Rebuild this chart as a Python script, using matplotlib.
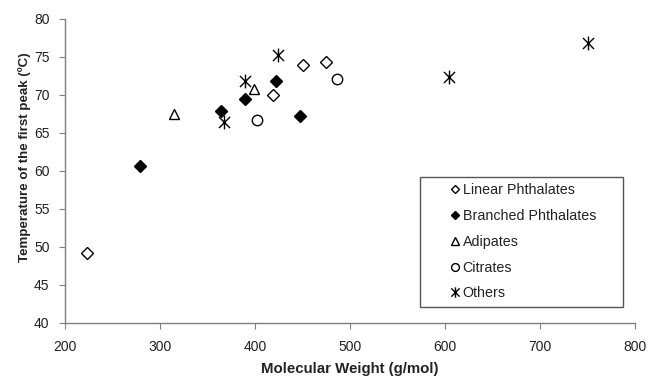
import matplotlib.pyplot as plt
import matplotlib as mpl
from matplotlib.path import Path
from matplotlib.patches import Rectangle

mpl.rcParams['font.family'] = 'Liberation Sans'
mpl.rcParams['font.size'] = 9

# molecular weight (g/mol) and temperature of first peak (C) per plasticiser group
linear_mw = [223, 419, 451, 475]
linear_t = [49.2, 70.0, 73.9, 74.4]

branched_mw = [279, 364, 390, 422, 447]
branched_t = [60.6, 67.9, 69.4, 71.8, 67.2]

adipate_mw = [315, 399]
adipate_t = [67.5, 70.8]

citrate_mw = [402, 486]
citrate_t = [66.7, 72.1]

other_mw = [368, 390, 424, 604, 750]
other_t = [66.5, 71.9, 75.2, 72.4, 76.8]

x_ticks = [200, 300, 400, 500, 600, 700, 800]
y_ticks = [40, 45, 50, 55, 60, 65, 70, 75, 80]

# excel style star: an X with a vertical bar through it
star = Path([(-1, -1), (1, 1), (-1, 1), (1, -1), (0, -1.25), (0, 1.25)],
            [Path.MOVETO, Path.LINETO, Path.MOVETO, Path.LINETO, Path.MOVETO, Path.LINETO])

fig = plt.figure(figsize=(6.48, 3.79), dpi=100)
ax = fig.add_axes([0.100, 0.148, 0.880, 0.802])

kw = dict(linestyle='none', markeredgecolor='black', markeredgewidth=1.0)
ax.plot(linear_mw, linear_t, marker='D', markersize=6, markerfacecolor='white', label='Linear Phthalates', **kw)
ax.plot(branched_mw, branched_t, marker='D', markersize=6, markerfacecolor='black', label='Branched Phthalates', **kw)
ax.plot(adipate_mw, adipate_t, marker='^', markersize=7, markerfacecolor='none', label='Adipates', **kw)
ax.plot(citrate_mw, citrate_t, marker='o', markersize=7.5, markerfacecolor='none', label='Citrates', **kw)
ax.plot(other_mw, other_t, marker=star, markersize=10, markerfacecolor='none', label='Others', **kw)

ax.set_xlim(200, 800)
ax.set_ylim(40, 80)
ax.set_xticks(x_ticks)
ax.set_yticks(y_ticks)

for side in ['top', 'right']:
    ax.spines[side].set_visible(False)
for side in ['left', 'bottom']:
    ax.spines[side].set_color('#7f7f7f')
    ax.spines[side].set_linewidth(1.0)
ax.tick_params(direction='out', length=4, color='#7f7f7f', labelsize=10, labelcolor='#222222')
ax.tick_params(axis='x', pad=8)
ax.tick_params(axis='y', pad=7)

ax.set_xlabel('Molecular Weight (g/mol)', fontweight='bold', fontsize=10.8, color='#222222', labelpad=6)
ax.set_ylabel('Temperature of the first peak (ºC)', fontweight='bold', fontsize=9.6, color='#222222')
ax.yaxis.set_label_coords(-0.06, 0.546)

# legend box drawn separately so the entries can sit inset from its edge
ax.add_patch(Rectangle((0.623, 0.053), 0.356, 0.427, transform=ax.transAxes,
                       facecolor='white', edgecolor='#555555', linewidth=1.0, zorder=4))
leg = ax.legend(loc='upper left', bbox_to_anchor=(0.655, 0.498), frameon=False,
                handlelength=0.8, handletextpad=0.1, labelspacing=0.83, borderpad=0.3,
                fontsize=10.3, markerscale=0.75)
leg.set_zorder(5)
for t in leg.get_texts():
    t.set_color('#222222')

fig.savefig('out.png', dpi=100)
